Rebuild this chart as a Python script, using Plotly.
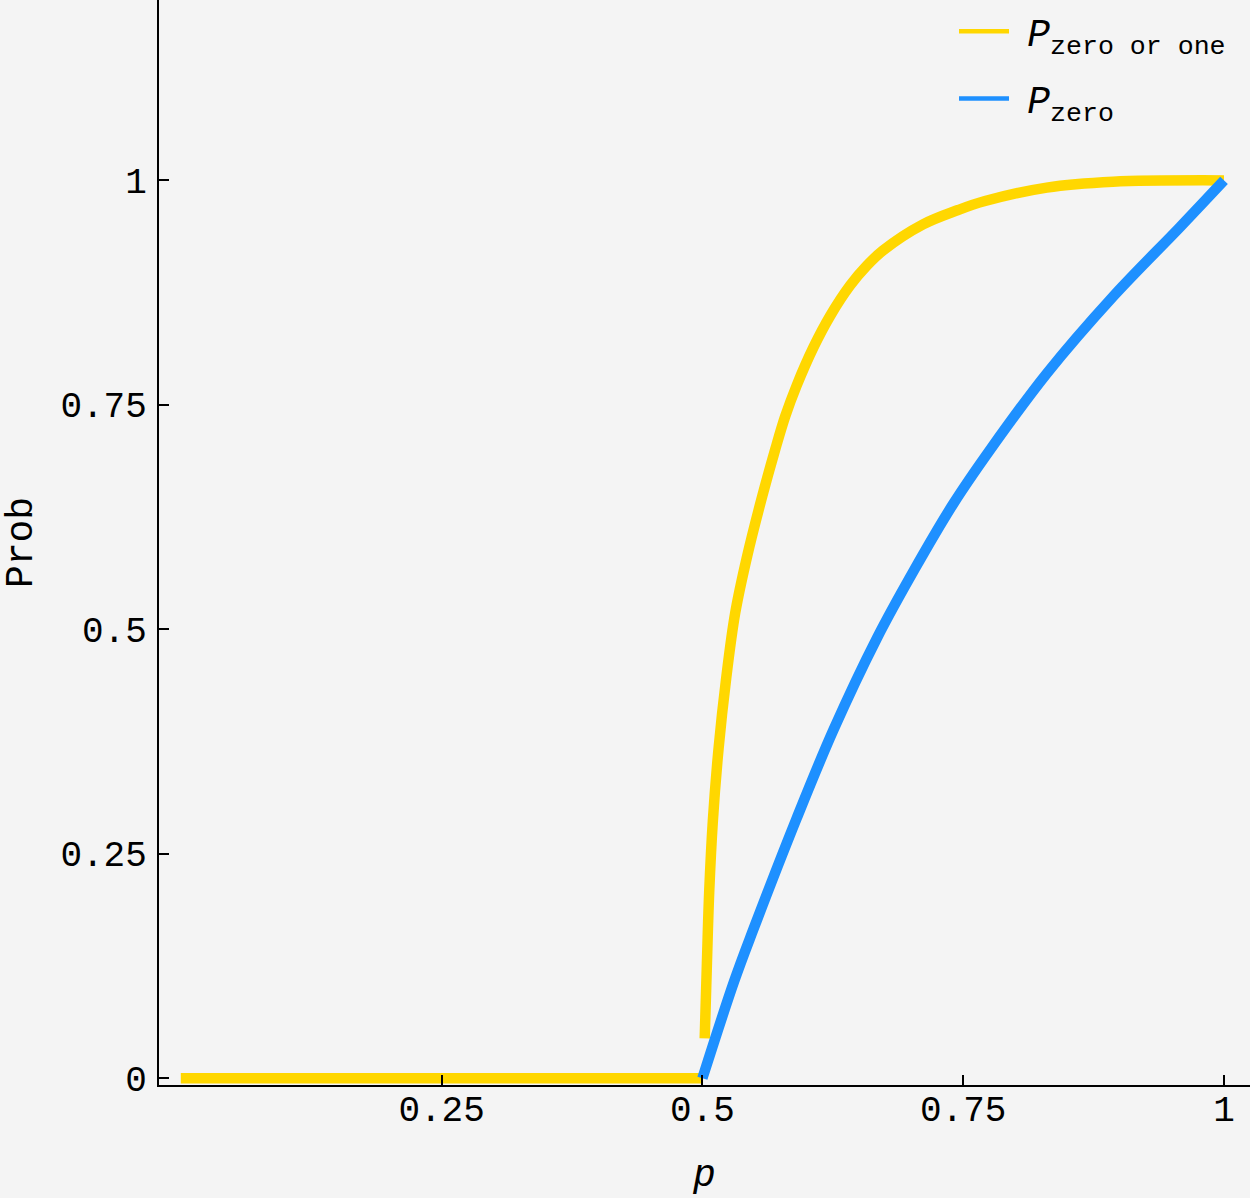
import plotly.graph_objects as go

# ---- data ----
# P_zero or one : flat branch for p <= 0.5
flat_p = [0.0, 0.5]
flat_prob = [0.0, 0.0]

# P_zero or one : rising branch for p > 0.5
zero_or_one_p = [0.5022, 0.5043, 0.5065, 0.5100, 0.5154, 0.5228, 0.5314, 0.5426,
                 0.5573, 0.5697, 0.5793, 0.5905, 0.6064, 0.6224, 0.6416, 0.6576,
                 0.6732, 0.7115, 0.7451, 0.7709, 0.8301, 0.8936, 1.0]
zero_or_one_prob = [0.0445, 0.1277, 0.2071, 0.2867, 0.3662, 0.4456, 0.518, 0.580,
                    0.648, 0.700, 0.737, 0.772, 0.814, 0.849, 0.883, 0.905,
                    0.922, 0.951, 0.967, 0.977, 0.992, 0.9985, 1.0]

# P_zero
zero_p = [0.5, 0.5304, 0.5489, 0.5905, 0.6256, 0.6672, 0.7039, 0.7406,
          0.7758, 0.8301, 0.8939, 0.9578, 1.0]
zero_prob = [0.0, 0.108, 0.166, 0.290, 0.388, 0.490, 0.568, 0.640,
             0.700, 0.785, 0.871, 0.948, 1.0]

x_tick_vals = [0.25, 0.5, 0.75, 1]
x_tick_text = ["0.25", "0.5", "0.75", "1"]
y_tick_vals = [0, 0.25, 0.5, 0.75, 1]
y_tick_text = ["0", "0.25", "0.5", "0.75", "1"]

series_names = ["<i>P</i><sub>zero or one</sub>", "<i>P</i><sub>zero</sub>"]
series_colors = ["#FFD700", "#1E90FF"]

FONT = "Liberation Mono, Courier New, monospace"
BG = "#f4f4f4"

fig = go.Figure()

# yellow curve: flat part, gap, rising part
fig.add_trace(go.Scatter(
    x=flat_p + [None] + zero_or_one_p,
    y=flat_prob + [None] + zero_or_one_prob,
    mode="lines", line=dict(color=series_colors[0], width=10.5, shape="spline", smoothing=1.0),
    connectgaps=False, showlegend=False, hoverinfo="skip"))

fig.add_trace(go.Scatter(
    x=zero_p, y=zero_prob, mode="lines",
    line=dict(color=series_colors[1], width=10.5, shape="spline", smoothing=1.0),
    showlegend=False, hoverinfo="skip"))

# legend entries (thinner line swatches as in the reference)
for i, (name, col) in enumerate(zip(series_names, series_colors)):
    fig.add_trace(go.Scatter(x=[None], y=[None], mode="lines",
                             name="<span style='font-size:22px'> </span>" + name,
                             legendgroup=f"g{i}",
                             line=dict(color=col, width=4.5)))

axis_common = dict(
    showline=True, linecolor="black", linewidth=2,
    ticks="inside", ticklen=10, tickwidth=2, tickcolor="black",
    showgrid=False, zeroline=False,
    tickfont=dict(family=FONT, size=36, color="black"),
)

fig.update_layout(
    width=1250, height=1198,
    margin=dict(l=159, r=0, t=0, b=113),
    paper_bgcolor=BG, plot_bgcolor=BG,
    font=dict(family=FONT, color="black"),
    xaxis=dict(range=[-0.0209, 1.0249], tickvals=x_tick_vals, ticktext=x_tick_text,
               title=dict(text="<i>p</i>", font=dict(family=FONT, size=38), standoff=28),
               ticklabelstandoff=-9, **axis_common),
    yaxis=dict(range=[-0.0075, 1.2009], tickvals=y_tick_vals, ticktext=y_tick_text,
               title=dict(text="Prob", font=dict(family=FONT, size=38), standoff=20),
               ticklabelstandoff=3, **axis_common),
    legend=dict(x=0.7287, y=1.0, xanchor="left", yanchor="top",
                bgcolor="rgba(0,0,0,0)", borderwidth=0, itemwidth=50,
                tracegroupgap=15,
                font=dict(family=FONT, size=38, color="black")),
)

fig.write_html("out.html", config={"displayModeBar": False},
               post_script="document.body.style.margin='0';")
